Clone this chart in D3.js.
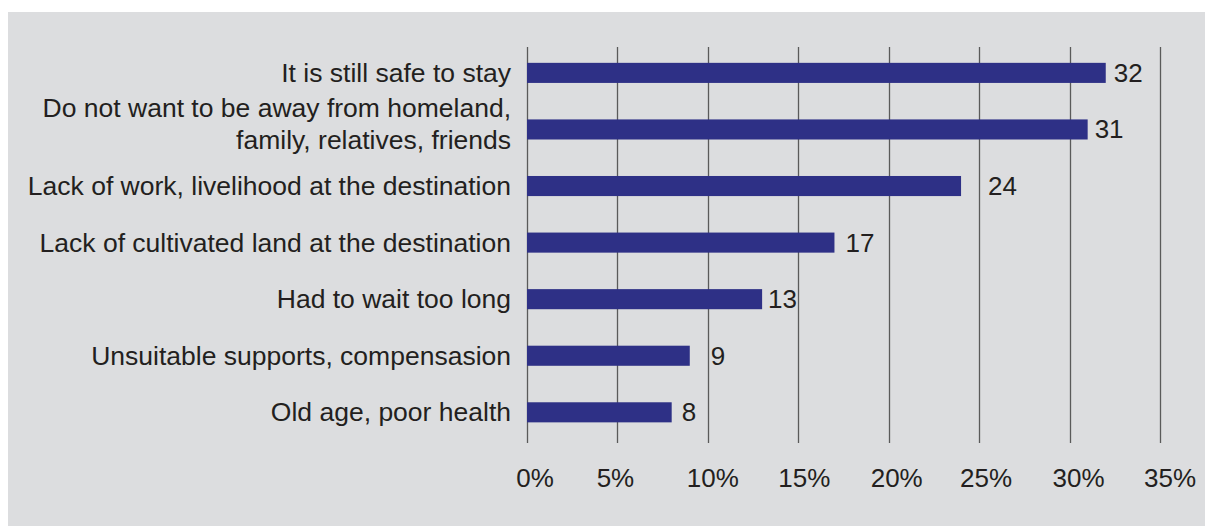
<!DOCTYPE html>
<html>
<head>
<meta charset="utf-8">
<script src="https://cdn.jsdelivr.net/npm/d3@7"></script>
<style>
  html, body { margin: 0; padding: 0; background: #ffffff; }
  svg { display: block; }
  text { font-family: "Liberation Sans", Arial, sans-serif; fill: #231f20; }
</style>
</head>
<body>
<svg id="chart" width="1205" height="526"></svg>
<script>
// Reasons for not wanting to relocate (% of respondents)
const categories = [
  ["It is still safe to stay"],
  ["Do not want to be away from homeland,", "family, relatives, friends"],
  ["Lack of work, livelihood at the destination"],
  ["Lack of cultivated land at the destination"],
  ["Had to wait too long"],
  ["Unsuitable supports, compensasion"],
  ["Old age, poor health"]
];
const values = [32, 31, 24, 17, 13, 9, 8];
const tickValues = [0, 5, 10, 15, 20, 25, 30, 35];
const tickLabels = ["0%", "5%", "10%", "15%", "20%", "25%", "30%", "35%"];
// extra horizontal spacing of each value label from its bar end
const labelNudge = [8, 7, 27, 11, 6, 21, 10];
// horizontal shift of each tick label from its gridline
const tickNudge = [8, -2, 5, 6, 8, 7, 9, 10];

const svg = d3.select("#chart");
const W = 1205, H = 526;

// grey panel
svg.append("rect")
  .attr("x", 8).attr("y", 12)
  .attr("width", W - 8).attr("height", H - 12)
  .attr("fill", "#dcdddf");

const x = d3.scaleLinear().domain([0, 35]).range([527, 1160]);
const y = d3.scaleBand()
  .domain(d3.range(categories.length))
  .range([44.6, 440.6])
  .paddingInner(0.645).paddingOuter(0.3225);

// vertical gridlines
svg.append("g").selectAll("line")
  .data(tickValues).join("line")
  .attr("x1", d => Math.round(x(d)) + 0.5)
  .attr("x2", d => Math.round(x(d)) + 0.5)
  .attr("y1", 47).attr("y2", 443)
  .attr("stroke", "#5a5a5a").attr("stroke-width", 1.3);

// bars
svg.append("g").selectAll("rect")
  .data(values).join("rect")
  .attr("x", x(0))
  .attr("y", (d, i) => y(i))
  .attr("width", d => x(d) - x(0))
  .attr("height", y.bandwidth())
  .attr("fill", "#2e3086");

// value labels
svg.append("g").selectAll("text")
  .data(values).join("text")
  .attr("x", (d, i) => x(d) + labelNudge[i])
  .attr("y", (d, i) => y(i) + y.bandwidth() / 2 + 9)
  .attr("font-size", 26)
  .text(d => d);

// category labels (multi-line labels are centred a little higher)
const catG = svg.append("g");
categories.forEach((lines, i) => {
  const cy = y(i) + y.bandwidth() / 2;
  const n = lines.length;
  const lh = 32;
  const t = catG.append("text")
    .attr("text-anchor", "end")
    .attr("font-size", 26.5);
  lines.forEach((ln, j) => {
    t.append("tspan")
      .attr("x", 511)
      .attr("y", cy + 9 - (n - 1) * 5 + (j - (n - 1) / 2) * lh)
      .text(ln);
  });
});

// x-axis tick labels
svg.append("g").selectAll("text")
  .data(tickValues).join("text")
  .attr("x", (d, i) => x(d) + tickNudge[i])
  .attr("y", 487)
  .attr("text-anchor", "middle")
  .attr("font-size", 26)
  .text((d, i) => tickLabels[i]);
</script>
</body>
</html>
